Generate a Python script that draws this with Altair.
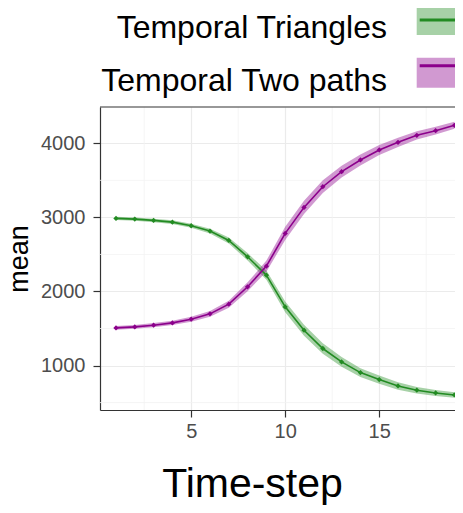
import altair as alt
import pandas as pd

# ---- data ----
steps = list(range(1, 20))
series_names = ["Temporal Triangles", "Temporal Two paths"]
tri_mean = [2986, 2977, 2959, 2936, 2887, 2815, 2689, 2468, 2220, 1792,
            1477, 1230, 1049, 905, 811, 725, 667, 630, 603]
two_mean = [1508, 1522, 1545, 1576, 1626, 1698, 1828, 2063, 2342, 2784,
            3135, 3414, 3617, 3775, 3910, 4013, 4108, 4170, 4243]
tri_sd = [22, 22, 23, 25, 28, 33, 40, 50, 62, 72, 75, 72, 66, 60, 55, 50, 45, 40, 36]
two_sd = [25, 26, 28, 30, 34, 40, 48, 60, 75, 88, 90, 86, 80, 74, 68, 62, 56, 52, 48]
colors = ["#228B22", "#8B008B"]
x_ticks = [5, 10, 15]
y_ticks = [1000, 2000, 3000, 4000]
x_minor = [2.5, 7.5, 12.5, 17.5]
y_minor = [500, 1500, 2500, 3500]
x_domain = [0.15, 19.03]
y_domain = [400, 4490]

rows = []
for name, means, sds in [(series_names[0], tri_mean, tri_sd),
                         (series_names[1], two_mean, two_sd)]:
    for s, m, d in zip(steps, means, sds):
        rows.append({"series": name, "step": s, "mean": m, "lo": m - d, "hi": m + d})
df = pd.DataFrame(rows)

FONT = "Liberation Sans"
xscale = alt.Scale(domain=x_domain, nice=False, zero=False)
yscale = alt.Scale(domain=y_domain, nice=False, zero=False)

x_axis = alt.Axis(values=x_ticks, format="d", title="Time-step", titleFontSize=41, titleFontWeight="normal",
                  titleColor="black", titleFont=FONT, titleAlign="center", titleBaseline="alphabetic",
                  titleX=152, titleY=86, labelFontSize=20, labelColor="#4d4d4d", labelFont=FONT,
                  labelPadding=4, tickSize=7, tickColor="#333333", tickWidth=1.2,
                  domain=True, domainColor="#333333", domainWidth=1.2,
                  grid=True, gridColor="#ebebeb", gridWidth=1.2)
y_axis = alt.Axis(values=y_ticks, format="d", title="mean", titleFontSize=27, titleFontWeight="normal",
                  titleColor="black", titleFont=FONT, titleAlign="center", titleBaseline="alphabetic",
                  titleAngle=270, titleX=-73, titleY=151.5, labelFontSize=20, labelColor="#4d4d4d",
                  labelFont=FONT, labelPadding=8, tickSize=7, tickColor="#333333", tickWidth=1.2,
                  domain=True, domainColor="#333333", domainWidth=1.2,
                  grid=True, gridColor="#ebebeb", gridWidth=1.2)

LABEL_OFF = {"expr": "-74.7"}
fill_legend = alt.Legend(title=None, orient="none", legendX=327.7, legendY=-95.6, direction="vertical",
                         symbolType="M-1.647,-1.376H1.647V0.388H-1.647Z", symbolSize=1156,
                         symbolStrokeWidth=0, symbolOpacity=0.4, labelFontSize=32, labelFont=FONT,
                         labelColor="black", labelAlign="right", labelBaseline="middle",
                         labelOffset=LABEL_OFF, labelLimit=600, rowPadding=12.7, padding=0)
stroke_legend = alt.Legend(title=None, orient="none", legendX=327.7, legendY=-95.6, direction="vertical",
                           symbolType="M-1.613,-0.542H1.806", symbolSize=961, symbolStrokeWidth=3,
                           labelFontSize=32, labelFont=FONT, labelExpr="''", labelAlign="right",
                           labelBaseline="middle", labelOffset=LABEL_OFF, labelLimit=600,
                           rowPadding=12.7, padding=0)

minor_v = alt.Chart(pd.DataFrame({"gx": x_minor})).mark_rule(color="#f2f2f2", strokeWidth=0.8).encode(
    x=alt.X("gx:Q", scale=xscale, axis=x_axis))
minor_h = alt.Chart(pd.DataFrame({"gy": y_minor})).mark_rule(color="#f2f2f2", strokeWidth=0.8).encode(
    y=alt.Y("gy:Q", scale=yscale, axis=y_axis))
top_border = alt.Chart(pd.DataFrame({"gy": y_domain[1:]})).mark_rule(color="#333333", strokeWidth=1.2).encode(
    y=alt.Y("gy:Q", scale=yscale, axis=y_axis))

base = alt.Chart(df)
band = base.mark_area(opacity=0.4).encode(
    x=alt.X("step:Q", scale=xscale, axis=x_axis),
    y=alt.Y("lo:Q", scale=yscale, axis=y_axis),
    y2="hi:Q",
    fill=alt.Fill("series:N", scale=alt.Scale(range=colors), legend=fill_legend),
)
line = base.mark_line(strokeWidth=1.6).encode(
    x=alt.X("step:Q", scale=xscale, axis=x_axis),
    y=alt.Y("mean:Q", scale=yscale, axis=y_axis),
    stroke=alt.Stroke("series:N", scale=alt.Scale(domain=series_names, range=colors), legend=stroke_legend),
)
pts = base.mark_point(filled=True, shape="diamond", size=28, opacity=1).encode(
    x=alt.X("step:Q", scale=xscale, axis=x_axis),
    y=alt.Y("mean:Q", scale=yscale, axis=y_axis),
    color=alt.Color("series:N", scale=alt.Scale(domain=series_names, range=colors), legend=None),
)

chart = alt.layer(minor_v, minor_h, band, line, pts, top_border).properties(
    width=355, height=303,
    autosize=alt.AutoSizeParams(type="none"),
    padding={"left": 92, "top": 99, "right": 0, "bottom": 95},
).configure_view(stroke=None)

chart.save("out.html", embed_options={"renderer": "svg", "actions": False})
